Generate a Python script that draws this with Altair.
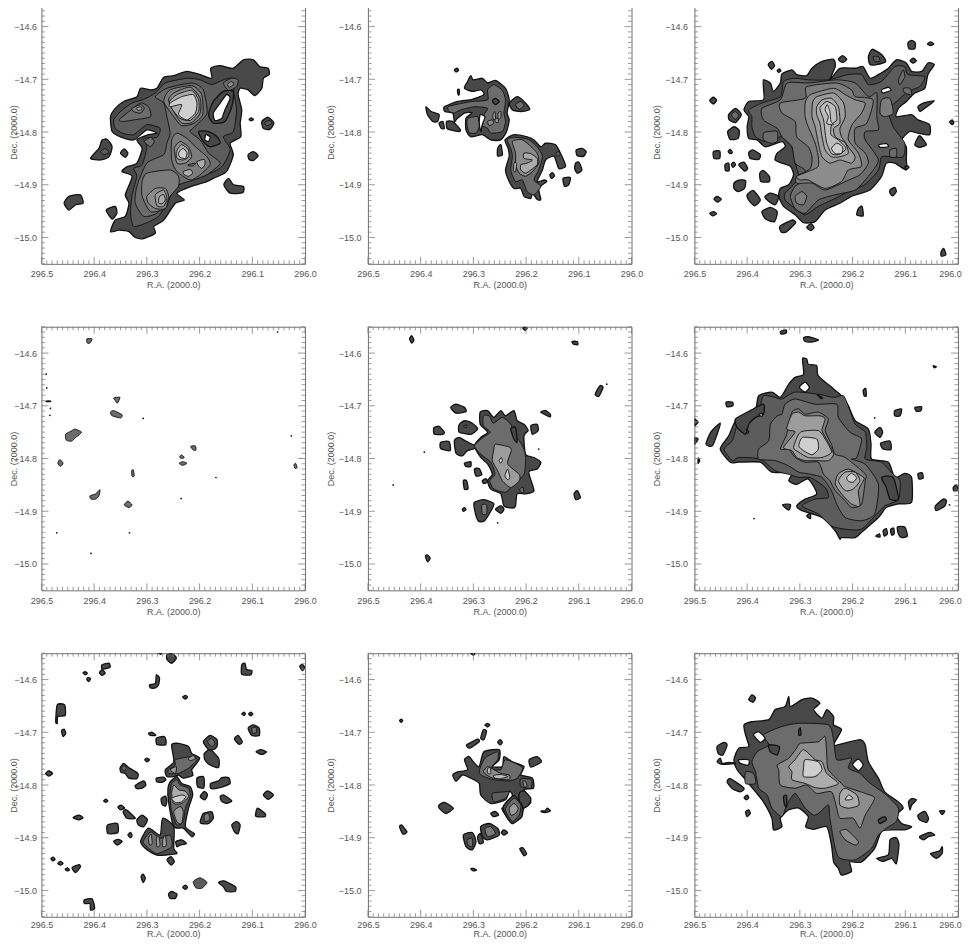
import altair as alt
import pandas as pd

# Contours: (grey level, flat list of RA, Dec pairs in millidegrees: RA = 296 + a/1000, Dec = -14 - d/1000).
# Level -1 is an empty (white) hole.  Polygons are listed in painting order.
GREYS = ["#484848", "#5c5c5c", "#6c6c6c", "#7c7c7c", "#8c8c8c", "#9c9c9c", "#acacac", "#bcbcbc", "#cfcfcf"]

P1 = [
 (0,[369,771,360,755,344,742,319,733,312,717,293,720,281,717,268,696,249,693,224,685,199,691,177,698,179,679,161,674,136,679,117,663,98,663,86,676,70,679,68,691,79,698,82,717,95,731,108,720,123,717,127,729,120,758,123,783,122,809,142,821,136,843,149,875,174,888,186,894,218,904,243,916,229,929,246,935,268,967,287,979,284,992,306,1002,322,1000,334,989,353,986,369,989,360,967,341,960,334,935,341,919,328,884,347,875,338,866,319,859,309,831,319,815,297,805,281,802,300,796,325,815,350,809,366,799]),
 (1,[360,793,363,777,350,761,328,745,306,738,284,726,265,707,224,698,199,701,177,710,155,701,136,698,136,720,130,758,136,799,155,809,142,834,158,866,186,881,218,891,243,903,262,935,278,960,300,972,325,979,331,954,328,919,319,884,325,869,309,862,300,828,306,812,281,810,275,793,300,786,325,805,347,802]),
 (0,[183,767,174,742,155,723,136,723,139,752,152,780,174,783]),
 (0,[202,799,183,799,167,809,161,821,180,828,193,818]),
 (-1,[174,764,161,745,149,729,142,736,152,758,158,774,171,778]),
 (-1,[188,805,180,809,183,818,190,815]),
 (2,[284,733,262,717,215,707,193,720,186,764,205,786,218,799,199,815,183,840,161,859,186,881,212,891,243,902,262,929,281,954,306,960,322,935,319,903,300,859,268,843,262,821,256,802,262,771,268,745]),
 (3,[268,742,256,720,215,712,196,729,194,767,212,784,234,788,249,771]),
 (3,[253,815,243,802,224,812,208,828,186,847,180,862,199,881,218,891,243,875,253,853]),
 (3,[309,894,300,878,256,872,240,884,240,903,256,922,265,945,293,951,309,922]),
 (4,[259,739,249,726,218,715,199,736,199,764,215,782,234,783,249,761]),
 (6,[257,742,243,729,215,721,202,739,202,761,218,778,237,774,253,755]),
 (8,[256,745,234,733,212,729,205,745,208,764,224,777,240,767,234,748,256,752]),
 (4,[248,831,237,818,221,828,215,847,227,859,243,859]),
 (6,[244,837,234,824,221,834,221,847,231,853,243,850]),
 (8,[240,840,232,831,224,839,227,850,237,848]),
 (6,[205,856,191,852,190,862,196,869,202,864]),
 (6,[231,875,218,871,213,878,221,884,229,881]),
 (2,[222,862,208,859,212,864,221,864]),
 (4,[300,922,284,907,265,907,259,922,265,945,284,945,297,935]),
 (5,[284,919,268,910,262,926,268,941,281,940]),
 (6,[276,922,268,919,265,929,271,936,278,934]),
 (2,[353,777,334,761,312,745,297,752,293,771,325,777,344,780]),
 (3,[328,755,312,748,305,755,312,764,326,761]),
 (5,[320,755,312,752,309,757,316,759]),
 (2,[155,707,139,698,127,701,130,714,145,721]),
 (4,[147,709,139,704,135,710,144,715]),
 (2,[305,818,293,810,286,818,293,828]),
 (0,[407,850,391,831,385,815,375,814,366,828,372,847,388,853]),
 (1,[388,837,379,831,372,839,382,843]),
 (0,[350,840,343,832,336,840,341,848]),
 (0,[457,935,448,922,426,919,421,935,435,938,448,948]),
 (0,[377,948,360,941,357,954,366,965]),
 (0,[154,900,145,888,136,900,117,903,118,915,142,916]),
 (0,[108,843,98,837,89,845,98,854,106,852]),
 (0,[82,780,70,772,59,783,67,795,79,793]),
 (1,[76,782,68,778,63,784,73,788]),
 (0,[106,776,102,773,98,776,102,779]),
]
S1 = []

P2 = [
 (0,[355,752,330,742,302,738,280,729,286,720,302,723,317,717,311,704,305,693,300,701,283,698,273,707,258,702,239,717,232,739,236,764,232,777,237,799,248,815,267,815,283,805,305,809,314,796,314,774,302,763,317,764,330,774,336,780,339,764,354,761]),
 (2,[348,752,324,746,302,742,273,739,273,720,261,710,245,721,239,739,242,764,239,780,245,799,267,802,273,793,286,786,280,767,273,755,298,752,324,758,336,764,346,761]),
 (-1,[287,767,278,771,283,786,286,799,289,783]),
 (0,[264,741,258,736,251,742,258,748]),
 (5,[263,767,259,761,258,774,262,777]),
 (5,[253,764,248,761,248,772,253,777]),
 (5,[259,776,253,774,253,782,258,781]),
 (4,[273,780,264,777,262,784,270,788]),
 (2,[310,774,292,771,289,790,295,802,308,801,312,786]),
 (0,[232,745,217,733,204,742,193,757,210,761,226,758]),
 (2,[220,748,210,742,204,750,213,757]),
 (0,[390,752,380,761,365,767,368,780,377,780,387,767]),
 (0,[365,783,358,780,355,793,361,793]),
 (0,[351,780,339,780,325,795,327,799,343,796,350,793]),
 (0,[336,682,331,679,328,683,333,686]),
 (0,[330,720,327,719,327,729,329,729]),
 (0,[254,831,248,824,245,843,254,845]),
 (0,[240,815,223,805,198,809,185,815,172,828,163,821,144,824,132,846,125,865,138,869,147,846,163,853,169,872,179,894,166,891,161,894,176,907,172,928,179,928,188,916,191,926,204,922,210,907,223,907,232,894,239,872,232,846,234,831]),
 (2,[236,814,220,810,196,814,179,828,169,846,176,872,185,891,172,903,185,919,198,913,207,891,220,894,229,872,226,846,229,831]),
 (4,[226,818,210,814,198,821,179,840,176,859,188,875,201,884,213,878,220,862,220,840]),
 (6,[204,840,191,841,179,850,179,862,191,872,201,878,210,872,210,862,198,859,188,853,204,850]),
 (6,[223,859,218,859,220,875,224,873]),
 (1,[144,840,138,837,135,843,141,846]),
 (0,[105,834,94,831,86,837,91,846,103,845]),
 (0,[106,859,100,857,94,872,103,878,108,869]),
 (0,[130,888,116,886,119,900,127,903]),
 (0,[155,881,150,877,146,883,152,888]),
]
S2 = []

P3 = [
 (0,[406,758,397,742,369,739,369,717,369,701,356,707,350,723,337,707,334,690,315,682,306,691,287,693,277,679,258,666,236,662,233,676,243,701,224,679,195,679,180,676,167,698,151,691,132,679,117,663,98,669,88,685,69,685,57,669,45,672,57,691,63,717,82,726,98,742,113,755,117,771,88,767,76,777,54,786,54,805,76,802,92,799,107,815,98,828,98,853,98,872,120,859,136,859,145,884,167,910,202,922,224,935,252,948,271,970,293,972,309,957,331,941,340,922,337,907,321,900,312,881,318,865,334,859,347,853,343,840,328,828,334,818,365,828,381,815,397,812,400,790,397,771]),
 (1,[397,758,372,745,337,733,331,704,309,698,284,701,246,701,208,691,183,691,170,710,145,704,120,676,101,676,95,691,63,695,73,714,95,723,113,739,132,758,123,790,101,821,104,847,126,847,145,847,151,872,177,900,208,913,233,926,265,941,290,957,309,945,328,929,328,916,315,903,302,884,309,859,315,828,334,809,365,818,384,809,391,790,391,771]),
 (-1,[145,720,132,715,127,721,142,726]),
 (-1,[150,824,136,822,132,828,148,829]),
 (2,[372,755,337,739,324,707,284,707,230,701,195,707,170,733,154,726,154,771,151,796,176,799,176,815,151,853,170,884,195,910,233,919,265,929,290,954,309,945,318,922,309,903,290,891,290,872,309,859,315,828,334,809,343,793,369,777]),
 (3,[337,745,290,736,287,714,230,707,202,720,195,733,161,739,173,783,195,793,195,821,176,840,170,859,186,881,214,894,252,910,277,897,306,897,306,884,280,869,277,847,284,828,306,809,309,780,334,764]),
 (4,[290,745,280,729,236,717,214,729,195,739,176,745,183,764,199,783,205,796,208,815,189,840,183,865,208,872,221,894,252,907,284,891,299,891,306,884,277,872,265,865,265,847,271,821,284,790,290,771]),
 (5,[276,745,268,733,236,726,217,745,214,771,224,793,221,809,208,828,195,847,202,859,224,853,243,859,258,847,265,821,271,790,277,771]),
 (6,[268,752,258,739,240,736,227,752,224,783,236,793,233,809,214,821,208,840,224,847,240,847,252,834,258,809,262,783,268,767]),
 (7,[262,755,249,742,233,752,230,777,240,786,241,805,227,815,214,828,214,834,227,843,240,841,249,821,252,802,255,777]),
 (8,[252,758,248,748,243,761,241,780,236,786,249,784,246,771]),
 (8,[240,831,230,821,219,828,220,840,233,841]),
 (3,[309,922,296,913,287,922,293,938,306,935]),
 (3,[145,739,129,736,123,764,139,771,148,764]),
 (2,[129,834,117,831,117,847,129,847]),
 (2,[369,802,359,799,343,799,343,818,356,821,369,815]),
 (2,[113,701,104,682,101,695,110,710]),
 (2,[104,717,91,717,88,729,101,726]),
 (0,[471,740,464,734,458,740,464,747]),
 (0,[435,767,422,755,411,767,422,782,434,777]),
 (2,[430,767,422,761,416,769,423,776]),
 (0,[437,799,425,790,415,797,417,812,432,814]),
 (0,[464,837,452,836,452,850,463,850]),
 (0,[397,839,389,834,375,843,378,852,394,850]),
 (0,[416,862,406,857,399,869,405,874]),
 (0,[442,862,435,859,434,873,441,873]),
 (0,[430,861,425,857,422,862,427,867]),
 (0,[436,837,432,833,428,839,432,841]),
 (0,[376,878,369,873,358,884,358,894,374,894]),
 (0,[425,897,416,891,403,892,405,907,417,913,425,907]),
 (0,[463,927,457,922,449,927,456,933]),
 (0,[471,954,464,951,458,955,465,959]),
 (0,[400,919,388,911,375,929,386,940,397,929]),
 (0,[366,922,356,916,340,922,347,938,362,929]),
 (0,[372,951,356,943,343,951,348,970,365,965]),
 (0,[338,979,315,967,308,972,325,989,335,990]),
 (0,[287,981,279,974,273,981,279,987]),
 (0,[360,672,353,666,348,674,354,681]),
 (0,[343,683,339,680,336,684,340,687]),
 (0,[227,662,219,655,211,662,219,668]),
 (0,[170,657,163,643,145,653,137,666,154,672,167,672]),
 (1,[161,657,151,657,148,666,158,666]),
 (0,[95,631,88,626,81,631,82,642,93,642]),
 (0,[58,633,52,629,46,633,52,636]),
 (0,[91,665,85,660,79,665,85,669]),
 (0,[129,910,120,905,117,913,124,921,129,916]),
 (0,[189,945,182,941,180,959,192,957]),
 (0,[76,752,66,745,45,741,63,755,72,761]),
 (0,[82,824,73,807,60,824,73,829]),
 (0,[16,781,11,777,8,782,11,786]),
 (0,[32,1027,27,1021,23,1033,32,1035]),
 (0,[101,866,96,864,93,867,98,871]),
]
S3 = []

P4 = [
 (2,[414,573,404,573,408,581,413,581]),
 (2,[363,685,351,684,356,695,360,690]),
 (2,[369,712,363,709,347,717,350,723,366,719]),
 (2,[454,754,442,747,437,744,424,750,435,760,443,767,453,765]),
 (2,[469,809,465,802,459,809,464,815]),
 (2,[329,824,326,821,324,833,328,834]),
 (2,[238,797,234,793,229,798,234,800]),
 (2,[239,809,232,806,224,809,232,813]),
 (2,[217,777,208,776,207,784,212,784]),
 (2,[21,812,18,809,15,817,19,819]),
 (2,[408,871,397,867,389,859,391,871,397,877,406,877]),
 (2,[343,888,336,881,328,888,334,893]),
 (0,[491,691,483,691,483,692,491,692]),
]
S4 = [491,640,490,666,483,705,484,718,471,941,333,941,406,980,307,724,169,836,235,876,26,757,52,560]

P5 = [
 (0,[298,776,286,760,273,750,287,735,287,712,273,709,261,722,248,709,239,719,223,709,217,728,204,735,196,747,204,757,201,792,185,798,172,807,179,820,195,826,185,861,201,867,217,867,220,890,226,894,242,890,248,867,267,858,273,842,264,830,273,810,286,798]),
 (0,[336,766,327,760,314,767,302,773,292,779,311,785,321,795,333,790]),
 (2,[298,776,283,761,268,750,281,738,281,719,270,719,262,733,245,722,229,735,223,754,213,766,204,782,201,798,204,830,226,852,239,864,261,858,269,842,259,830,267,807,286,792]),
 (0,[229,744,220,741,217,769,223,763]),
 (5,[261,782,258,773,232,778,228,785,235,810,213,830,213,842,229,855,245,842,254,823,264,804]),
 (8,[251,804,247,798,245,804,248,809]),
 (8,[240,833,235,820,231,836,235,840]),
 (2,[212,858,206,854,204,864,210,864]),
 (0,[343,703,333,697,317,703,314,711,333,714]),
 (0,[327,736,317,728,302,733,292,744,305,754,327,750]),
 (1,[319,738,312,736,314,742]),
 (0,[375,742,365,739,355,750,358,754,374,754]),
 (0,[362,769,346,768,344,785,362,781]),
 (0,[317,809,305,806,305,815,314,815]),
 (0,[298,820,289,819,284,831,295,833]),
 (0,[283,842,276,838,273,845,281,847]),
 (0,[319,842,313,842,310,857,317,858]),
 (0,[321,896,317,893,314,897,319,900]),
 (0,[298,883,280,878,261,886,270,905,280,919,291,918,298,896]),
 (3,[284,888,275,888,275,905,283,905]),
 (0,[258,896,248,890,242,896,248,904]),
 (0,[191,738,179,735,177,747,188,754]),
 (0,[109,867,103,861,97,874,106,878]),
 (0,[69,678,60,662,54,665,62,682]),
 (0,[113,578,103,578,102,584,110,583]),
 (0,[421,573,417,567,413,575,417,581]),
 (0,[206,553,202,550,198,553,202,557]),
 (0,[391,985,387,983,382,989,387,996]),
 (0,[172,712,163,709,154,716,155,721]),
]
S5 = [452,850,393,788,47,659,254,922,176,782]

P6 = [
 (0,[451,782,435,757,422,728,406,719,384,706,378,681,353,674,337,684,321,659,309,646,293,640,295,611,287,611,284,621,268,624,265,643,236,668,221,681,208,700,195,728,170,744,165,773,164,801,132,807,120,836,101,828,88,836,88,883,113,886,136,893,151,912,183,940,195,950,221,950,224,953,233,937,258,912,296,899,306,890,290,877,268,867,284,839,306,849,321,842,315,826,353,826,375,807,416,807,432,807]),
 (1,[444,782,428,766,419,738,403,731,378,709,369,681,347,684,334,687,309,674,265,678,236,684,217,681,205,709,195,735,176,750,173,779,176,801,145,807,123,830,110,842,113,877,139,890,154,905,183,934,214,934,240,928,265,905,296,890,271,877,246,874,252,855,280,836,302,836,321,830,347,823,375,801,416,798,428,804]),
 (0,[422,725,394,709,369,697,369,716,384,722,397,735,403,754,419,741]),
 (0,[145,836,123,836,113,877,129,877,136,855]),
 (-1,[301,665,290,655,282,665,290,674]),
 (-1,[267,679,257,685,260,686]),
 (-1,[401,744,397,750,400,752]),
 (-1,[378,717,371,714,372,720]),
 (2,[378,801,378,782,359,766,356,735,343,719,334,716,328,697,309,687,271,697,230,697,227,722,205,750,183,763,192,798,202,801,176,811,151,849,158,905,183,918,214,912,230,887,240,861,258,836,284,829,302,826,321,814,347,804]),
 (3,[337,782,325,754,315,712,302,706,290,716,265,712,246,725,252,747,240,773,233,792,214,798,176,829,176,842,183,887,202,893,214,880,233,861,243,842,255,830,265,807,290,807,309,798,321,782]),
 (5,[331,779,309,750,325,744,315,716,302,712,290,719,262,719,252,725,258,747,246,769,236,792,246,804,271,804,290,804,306,798,315,785]),
 (5,[233,848,227,829,208,820,183,833,178,839,189,861,186,890,202,886,221,867]),
 (6,[312,779,299,750,265,747,252,763,240,788,258,798,284,798,302,788]),
 (6,[227,842,214,826,195,826,186,842,199,858,214,861]),
 (8,[302,776,295,760,268,763,265,782,277,793,293,785]),
 (8,[211,836,202,828,192,836,199,845,208,843]),
 (0,[478,773,469,750,451,733,457,754,466,776]),
 (0,[501,725,493,731,501,738]),
 (0,[500,760,493,763,500,773]),
 (0,[493,799,490,804,493,809]),
 (0,[440,693,428,693,427,700,438,702]),
 (0,[337,559,326,556,326,562,335,564]),
 (0,[293,571,284,569,265,575,277,579,290,578]),
 (0,[180,671,175,667,174,681,178,681]),
 (0,[120,709,107,706,110,719,120,719]),
 (0,[82,703,69,702,71,710,79,710]),
 (0,[47,624,41,626,45,628]),
 (0,[158,750,148,741,143,750,148,760]),
 (0,[147,771,129,767,127,783,142,782]),
 (0,[76,829,68,827,66,837,74,839]),
 (0,[9,855,3,850,0,860,8,861]),
 (0,[43,890,28,877,22,880,25,890,41,899]),
 (0,[333,888,318,887,321,898]),
 (0,[287,909,280,904,280,914]),
 (0,[115,930,101,930,96,947,107,950,113,943]),
 (0,[142,937,136,933,134,943,140,947]),
 (0,[128,935,122,932,121,943,126,945]),
 (0,[156,947,149,943,148,949]),
]
S6 = [387,914,158,723,16,888]

P7 = [
 (0,[265,771,249,756,253,724,240,721,221,727,215,740,200,749,208,762,215,771,213,782,231,787,240,781,249,784,262,784]),
 (2,[259,771,246,762,246,752,215,746,205,752,221,768,240,778,259,778]),
 (5,[221,749,212,744,208,750,218,754]),
 (5,[256,771,244,765,246,778]),
 (0,[256,794,243,784,234,797,218,803,213,819,221,844,227,879,210,892,215,898,231,882,249,879,259,831,260,806]),
 (2,[253,797,243,790,237,800,221,806,218,822,227,844,231,869,243,876,253,850,256,819]),
 (5,[249,850,237,841,231,850,234,873,243,870]),
 (6,[253,816,249,800,240,809,227,812,221,822,234,835,249,835]),
 (8,[253,825,234,819,226,822,234,832,246,833]),
 (0,[312,907,297,882,275,895,270,863,249,879,249,920,243,930,265,933,281,933,300,923]),
 (2,[307,907,293,889,275,901,256,895,253,917,281,930,300,917]),
 (5,[297,901,292,893,290,911,295,914]),
 (5,[282,901,278,896,275,914,281,917]),
 (5,[270,904,265,895,263,914,270,917]),
 (0,[245,907,234,904,225,911,237,914,243,917]),
 (0,[262,553,253,550,244,559,253,569,262,562]),
 (0,[282,547,271,547,274,552]),
 (0,[385,572,372,569,370,577,385,580]),
 (0,[421,587,417,585,413,588,417,591]),
 (0,[414,599,411,596,407,599,411,604]),
 (0,[390,587,385,581,379,588,385,592]),
 (0,[295,610,284,607,282,591,276,597,278,610,284,616,293,616]),
 (0,[232,633,227,630,223,633,227,637]),
 (0,[120,572,114,569,111,581,101,583,103,591,120,590]),
 (0,[10,575,5,571,1,577,5,583]),
 (0,[120,665,116,662,113,665,116,668]),
 (0,[107,665,103,662,99,665,103,669]),
 (0,[108,692,98,686,87,692,87,706,101,706]),
 (2,[101,692,93,691,92,700,99,702]),
 (0,[473,680,470,648,456,648,455,668,469,670,470,683]),
 (0,[462,697,457,694,454,702,459,708]),
 (0,[492,778,486,773,479,778,486,783]),
 (0,[304,752,300,749,295,752,300,756]),
 (0,[297,702,290,700,283,706,293,706]),
 (0,[282,711,268,708,264,714,265,724,281,723]),
 (0,[193,718,180,706,167,714,167,727,174,733,183,733]),
 (2,[185,718,177,711,171,721,177,727]),
 (0,[191,740,180,733,164,749,164,767,180,762,190,752]),
 (0,[134,713,127,706,119,718,125,723]),
 (0,[93,737,84,733,73,737,82,742]),
 (0,[351,768,344,759,333,768,317,778,319,788,334,787,341,778,349,776]),
 (2,[347,768,343,763,339,769,344,773]),
 (0,[282,787,268,785,264,790,271,795,281,794]),
 (0,[322,801,306,792,302,800,309,806,319,807]),
 (0,[205,787,193,784,191,797,193,806,204,803]),
 (0,[199,822,191,812,185,819,190,828]),
 (0,[179,797,164,792,158,786,145,786,142,797,155,803,171,807,179,806]),
 (0,[161,822,154,819,139,830,149,835,158,831]),
 (0,[79,819,71,811,60,819,70,827]),
 (0,[94,857,90,844,76,854,76,860,92,860]),
 (0,[139,876,130,869,123,876,127,892,133,890]),
 (0,[199,870,193,854,177,851,174,863,183,873,196,873]),
 (3,[191,857,183,854,181,866,190,869]),
 (0,[273,826,265,821,262,831,265,840,271,837]),
 (0,[355,842,349,838,342,844,350,847]),
 (0,[345,851,339,847,322,863,338,863]),
 (0,[382,830,378,827,374,830,378,833]),
 (0,[440,862,429,857,421,862,429,866]),
 (0,[319,866,309,857,299,866,306,879,316,876]),
 (0,[375,876,356,873,355,890,374,892]),
 (0,[336,895,331,890,328,896,331,900]),
 (0,[363,907,355,903,347,907,356,914]),
 (0,[262,942,254,936,248,945,254,952]),
 (0,[482,940,478,937,474,941,478,944]),
 (0,[469,949,464,945,459,949,464,952]),
 (0,[455,960,451,957,447,961,451,963]),
 (0,[442,957,429,951,426,955,435,966]),
 (0,[311,974,307,969,303,977,307,985]),
 (0,[232,994,227,990,223,994,227,998]),
 (1,[212,983,199,976,186,985,196,996,207,995]),
 (0,[164,985,154,982,132,993,133,1002,149,1002,155,993]),
 (0,[259,1007,253,1002,243,1007,246,1015,256,1015]),
 (0,[419,1018,404,1016,399,1034,407,1037,408,1025,418,1025]),
]
S7 = []

P8 = [
 (0,[339,781,330,775,311,771,317,752,308,746,300,756,289,765,280,737,251,733,251,752,264,765,245,765,242,746,226,756,204,765,210,781,188,787,186,806,204,809,191,832,204,844,210,857,226,873,239,857,246,844,232,838,226,819,232,812,239,828,267,835,286,819,289,797,305,787,321,781,333,793]),
 (2,[289,775,278,749,254,737,254,752,267,768,248,771,239,752,207,767,217,787,232,792,261,790,280,784]),
 (4,[281,775,273,765,261,771,248,778,232,781,232,790,258,788,270,784]),
 (7,[273,769,268,767,267,778,273,778]),
 (7,[262,782,248,780,235,784,248,788,259,787]),
 (1,[210,788,190,790,191,806,210,803]),
 (4,[206,793,201,793,198,803,204,803]),
 (1,[264,816,242,813,232,813,239,825,261,832]),
 (0,[213,816,204,811,191,825,195,838,207,844,213,832]),
 (0,[243,840,223,820,207,840,208,860,226,873,239,857]),
 (2,[239,844,223,825,210,838,213,857,226,869,235,857]),
 (5,[232,844,223,835,215,844,220,854,229,857]),
 (0,[365,838,355,833,338,844,352,854,365,844]),
 (0,[440,879,436,876,426,889,434,893]),
 (0,[440,678,437,675,434,678,437,681]),
 (0,[313,724,292,713,289,718,307,730]),
 (0,[286,711,281,695,275,698,280,714]),
 (0,[278,686,273,683,269,686,273,690]),
 (0,[254,719,249,714,245,719,249,724]),
 (0,[194,752,179,746,171,756,191,766]),
 (0,[171,849,164,849,160,844,154,849,161,852,171,851]),
 (0,[267,854,259,850,252,857,262,860]),
 (0,[286,879,270,873,254,882,251,895,273,904,283,898]),
 (3,[278,883,267,879,258,892,273,898]),
 (0,[247,890,242,885,235,890,242,895]),
 (0,[292,898,286,892,281,909,289,911]),
 (0,[319,895,302,890,295,907,302,923,314,917]),
 (2,[312,904,302,901,302,917,310,914]),
 (0,[212,921,206,919,199,930,204,934]),
 (0,[305,959,300,958,294,961,300,963]),
 (0,[305,550,297,550,300,554]),
]
S8 = []

P9 = [
 (0,[425,752,416,730,397,727,403,705,406,686,391,680,359,676,347,657,328,651,321,632,318,651,296,638,277,635,262,645,274,657,258,673,249,657,236,670,236,686,221,695,236,724,217,721,186,714,176,724,170,756,151,787,139,813,113,832,104,844,117,857,107,873,88,879,101,885,120,885,145,888,158,920,183,946,205,946,202,964,221,971,227,958,236,946,240,914,249,879,274,884,289,879,284,860,302,844,321,847,337,863,334,879,350,885,353,863,369,832,384,813,403,790,419,771]),
 (2,[391,756,381,737,359,724,369,705,334,689,302,683,246,686,236,714,230,752,202,749,208,768,186,778,170,794,136,819,113,844,117,869,136,882,151,895,164,920,195,942,224,939,233,920,243,863,246,838,265,854,274,857,290,844,309,816,325,838,334,860,353,844,362,819,378,806,384,775]),
 (0,[359,724,339,727,343,743,356,737]),
 (2,[403,775,388,778,384,797,403,797]),
 (0,[331,822,325,820,325,841,329,838]),
 (0,[302,695,299,692,298,705,302,705]),
 (0,[151,866,139,860,136,866,148,873]),
 (-1,[388,705,378,699,366,711,375,719]),
 (-1,[200,761,189,751,180,762,189,773]),
 (-1,[416,752,397,752,398,762,413,759]),
 (4,[343,762,321,749,306,730,299,721,265,718,252,708,249,743,246,771,224,794,214,803,176,816,158,825,176,857,186,882,199,863,224,863,230,844,240,813,268,816,287,800,309,806,337,800,340,771]),
 (4,[224,888,211,885,189,907,195,914,214,904]),
 (6,[321,765,309,752,293,733,271,752,258,756,249,778,227,797,252,806,271,805,290,797,315,790,315,775]),
 (6,[224,816,214,806,192,819,188,838,208,844,224,838]),
 (8,[293,768,290,752,265,756,258,771,271,784,293,784]),
 (8,[214,828,208,819,199,825,205,828]),
 (0,[397,638,391,629,384,635,389,643]),
 (0,[457,727,444,719,438,724,446,743,455,740]),
 (0,[457,756,451,749,447,759,435,757,422,759,447,761]),
 (0,[438,794,432,788,406,806,413,813,428,807]),
 (0,[406,824,400,819,397,824,401,828]),
 (0,[403,851,397,847,394,854,400,860]),
 (0,[94,832,88,826,79,828,88,838,91,847]),
 (0,[76,857,63,850,56,863,60,871,73,866]),
 (0,[73,898,54,890,44,895,56,898,66,904]),
 (0,[52,930,35,925,30,917,30,930,41,939]),
 (0,[35,849,25,849,30,856]),
 (0,[154,939,132,932,129,904,117,900,112,914,117,949,126,939,142,945]),
]
S9 = []

RA_LABELS = [296.5, 296.4, 296.3, 296.2, 296.1, 296.0]
DEC_LABELS = [-14.6, -14.7, -14.8, -14.9, -15.0]
W, H = 264, 264
FONT = "Liberation Sans"
TEXT = "#555555"
TICK = "#808080"

ra_minor = [296 + i / 100 for i in range(51) if i % 10]
dec_minor = [-15.05 + i / 100 for i in range(51) if (i + 5) % 10]
xs = alt.Scale(domain=[296.5, 296.0])
ys = alt.Scale(domain=[-15.05, -14.55])


def panel(polys, specks, first_col, last_col, last_row):
    # The page is 970 wide with an 8px margin, so the last 296.0 label of the right column moves in a little.
    x_opts = {"labelOffset": {"condition": {"test": "datum.value === 296", "value": -8}, "value": 0}} if last_col else {}
    xax = alt.Axis(values=RA_LABELS, format=".1f", title="R.A. (2000.0)", ticks=False, domain=False, grid=False,
                   labelOverlap=False, labelFlush=False, labelPadding=4 if last_row else 6,
                   titlePadding=0 if last_row else 2, **x_opts)
    yax = alt.Axis(values=DEC_LABELS, format=".1f", title="Dec. (2000.0)", ticks=False, domain=False, grid=False,
                   labelOverlap=False, labelFlush=False, labelPadding=5 if first_col else 7,
                   titlePadding=-5 if first_col else 3)
    rows = []
    for n, (lev, pts) in enumerate(polys):
        fill = "#ffffff" if lev < 0 else GREYS[lev]
        for i, (a, d) in enumerate(zip(pts[0::2], pts[1::2])):
            rows.append({"ra": 296 + a / 1000, "dec": -14 - d / 1000, "poly": n, "i": i, "fill": fill,
                         "sw": 1.3 if lev <= 0 else 0.9})
    base = alt.Chart(pd.DataFrame(rows)).mark_line(
        stroke="#111111", clip=True, interpolate="cardinal-closed", tension=0.35
    ).encode(
        x=alt.X("ra:Q", scale=xs, axis=xax),
        y=alt.Y("dec:Q", scale=ys, axis=yax),
        detail="poly:N",
        order="i:Q",
        fill=alt.Fill("fill:N", scale=None),
        strokeWidth=alt.StrokeWidth("sw:Q", scale=None),
    )
    layers = [base]
    tick = {"color": TICK, "strokeWidth": 0.8}
    for vals, long in ((ra_minor, 3.5), (RA_LABELS, 7)):
        d = alt.Data(values=[{"t": v} for v in vals])
        x = alt.X("t:Q", scale=xs, axis=xax)
        layers.append(alt.Chart(d).mark_rule(**tick).encode(x=x, y=alt.value(0), y2=alt.value(long)))
        layers.append(alt.Chart(d).mark_rule(**tick).encode(x=x, y=alt.value(H), y2=alt.value(H - long)))
    for vals, long in ((dec_minor, 3.5), (DEC_LABELS, 7)):
        d = alt.Data(values=[{"t": v} for v in vals])
        y = alt.Y("t:Q", scale=ys, axis=yax)
        layers.append(alt.Chart(d).mark_rule(**tick).encode(y=y, x=alt.value(0), x2=alt.value(long)))
        layers.append(alt.Chart(d).mark_rule(**tick).encode(y=y, x=alt.value(W), x2=alt.value(W - long)))
    if specks:
        sp = pd.DataFrame({"ra": [296 + a / 1000 for a in specks[0::2]], "dec": [-14 - d / 1000 for d in specks[1::2]]})
        layers.append(alt.Chart(sp).mark_circle(size=3, color="#111111", opacity=1).encode(
            x=alt.X("ra:Q", scale=xs, axis=xax), y=alt.Y("dec:Q", scale=ys, axis=yax)))
    return alt.layer(*layers).properties(width=W, height=H)


PANELS = [(P1, S1), (P2, S2), (P3, S3), (P4, S4), (P5, S5), (P6, S6), (P7, S7), (P8, S8), (P9, S9)]
rows = []
for r in range(3):
    cols = [panel(*PANELS[r * 3 + c], first_col=c == 0, last_col=c == 2, last_row=r == 2) for c in range(3)]
    rows.append(alt.hconcat(*cols, spacing=8))
chart = alt.vconcat(*rows, spacing=35).properties(
    padding={"left": 0.5, "top": -9.5, "right": 0, "bottom": 0}, background="white"
).configure_view(stroke="#707070", strokeWidth=1).configure_axis(
    labelFont=FONT, titleFont=FONT, labelFontSize=9, titleFontSize=9, labelColor=TEXT, titleColor=TEXT,
    titleFontWeight="normal"
)

chart.save("out.html", embed_options={"renderer": "svg", "actions": False})
